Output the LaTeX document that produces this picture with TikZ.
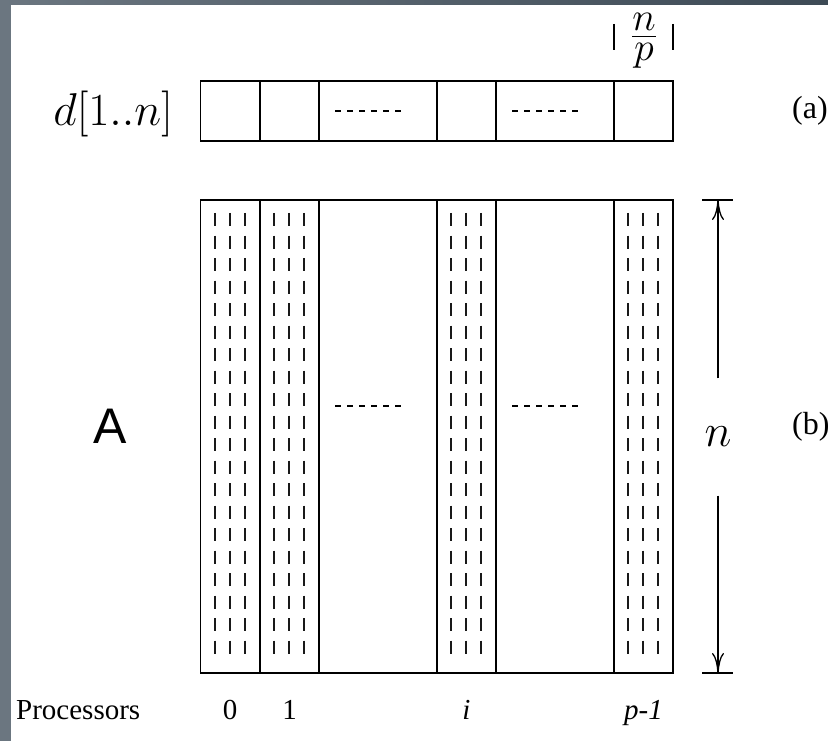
\RequirePackage{fix-cm}
\documentclass[tikz,border=0pt]{standalone}
\usepackage{fontspec}
\setmainfont{Liberation Serif}
\newfontfamily\helv{Liberation Sans}
\usetikzlibrary{arrows.meta}
\definecolor{stripL}{HTML}{6B7680}
\definecolor{stripR}{HTML}{3D4A55}
\begin{document}
\begin{tikzpicture}[x=1pt,y=-1pt,
  box/.style={draw, line width=1.8pt, inner sep=0pt, outer sep=0pt},
  tick/.style={line width=1.6pt},
  dashcol/.style={line width=1.8pt, black!90},
  dots/.style={line width=1.3pt, dash pattern=on 6pt off 6pt},
  lab/.style={inner sep=0pt, font=\fontsize{29}{32}\selectfont},
  dimarrow/.style={line width=1.5pt, -{Computer Modern Rightarrow[length=20pt,width=12pt,line width=1.3pt]}}
]
\useasboundingbox (0,0) rectangle (828,741);
\fill[white] (0,0) rectangle (828,741);
\fill[stripL] (0,0) rectangle (11,741);
\shade[left color=stripL, right color=stripR] (0,0) rectangle (828,5);

% top array d[1..n]
\foreach \nm/\cx/\w in {t0/230/59, t1/289.5/59, t2/378/118, t3/466.5/59, t4/555/118, t5/643.5/59}{
  \node[box, minimum width=\w pt, minimum height=60pt] (\nm) at (\cx,111) {};
}
% big matrix A
\foreach \nm/\cx/\w in {c0/230/59, c1/289.5/59, c2/378/118, c3/466.5/59, c4/555/118, c5/643.5/59}{
  \node[box, minimum width=\w pt, minimum height=473pt] (\nm) at (\cx,436.5) {};
}
% dashes in processor columns
\foreach \cx in {230,289,466,643}{
  \foreach \dx in {-15,0,15}{
    \foreach \k in {0,...,19}{
      \draw[dashcol] (\cx+\dx,213+\k*22.5) -- ++(0,13);
    }
  }
}
% dotted fillers
\draw[dots] (t2.center) ++(-43,0) -- ++(66,0);
\draw[dots] (t4.center) ++(-43,0) -- ++(66,0);
\draw[dots] (c2.center) ++(-43,-30.5) -- ++(66,0);
\draw[dots] (c4.center) ++(-43,-30.5) -- ++(66,0);

% n/p marker
\coordinate (bl1) at (614,24); \coordinate (bl2) at (614,50);
\coordinate (br1) at (673,24); \coordinate (br2) at (673,50);
\draw[tick] (bl1) -- (bl2);
\draw[tick] (br1) -- (br2);
\node[inner sep=0pt, font=\fontsize{40}{44}\selectfont] (np) at (644,41) {$\frac{\textstyle n}{\textstyle p}$};

% labels
\node[inner sep=0pt, anchor=base east, font=\fontsize{46}{50}\selectfont] (dl) at (173,126) {$d[1..n]$};
\node[lab, anchor=base west, font=\fontsize{32}{36}\selectfont] (la) at (792,119) {(a)};
\node[lab, anchor=base west, font=\fontsize{32}{36}\selectfont] (lb) at (792,434) {(b)};
\node[inner sep=0pt, anchor=base, font=\fontsize{50}{54}\selectfont\helv] (lA) at (110,443) {A};

% dimension arrow n
\coordinate (ttl) at (702,200); \coordinate (ttr) at (733,200);
\coordinate (tbl) at (702,673); \coordinate (tbr) at (733,673);
\coordinate (atop) at (718,200); \coordinate (abot) at (718,673);
\draw[tick] (ttl) -- (ttr);
\draw[tick] (tbl) -- (tbr);
\node[inner sep=0pt, minimum height=117pt, font=\fontsize{46}{50}\selectfont] (nl) at (718,437) {\raisebox{-2pt}{$n$}};
\draw[dimarrow] (nl) -- (atop);
\draw[dimarrow] (nl) -- (abot);

% processors
\node[lab, anchor=base west] (proc) at (16,719) {Processors};
\node[lab, anchor=base] (p0) at (230,719) {0};
\node[lab, anchor=base] (p1) at (289.5,719) {1};
\node[lab, anchor=base] (pi) at (466.5,719) {\itshape i};
\node[lab, anchor=base] (pp) at (643.5,719) {\itshape p-1};
\end{tikzpicture}
\end{document}
